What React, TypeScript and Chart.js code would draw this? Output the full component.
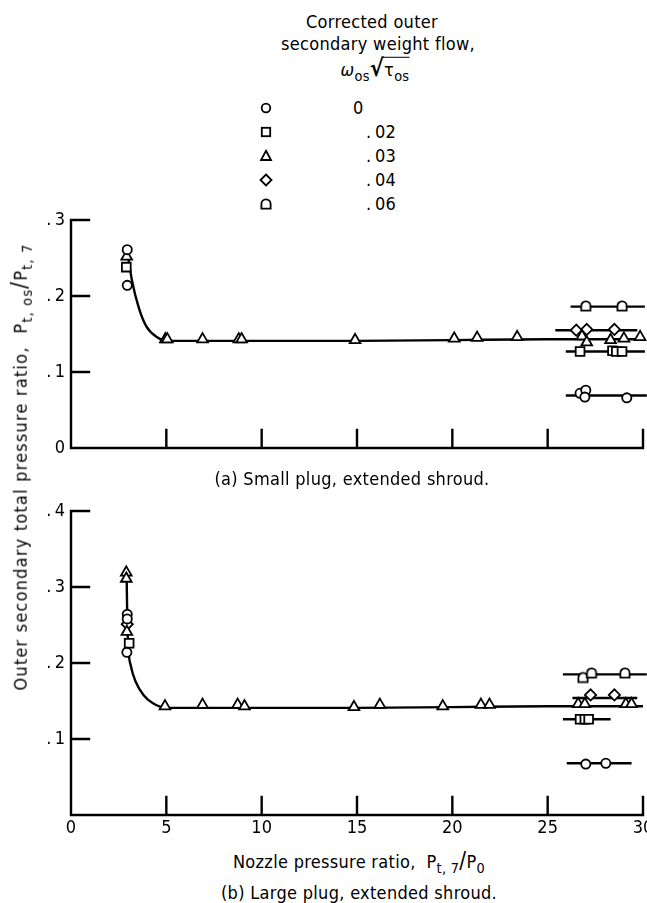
import React, { useEffect, useRef } from "react";
import { Chart, registerables } from "chart.js";

Chart.register(...registerables);

const FONT = "'DejaVu Sans Condensed', 'Liberation Sans Narrow', sans-serif";

// ---------- axes ----------
const xTickValues = [0, 5, 10, 15, 20, 25, 30];
const xTickLabels = ["0", "5", "10", "15", "20", "25", "30"];
const yTickValuesA = [0, 0.1, 0.2, 0.3];
const yTickLabelsA = ["0", ".\u20091", ".\u20092", ".\u20093"];
const yTickValuesB = [0, 0.1, 0.2, 0.3, 0.4];
const yTickLabelsB = ["", ".\u20091", ".\u20092", ".\u20093", ".\u20094"];

// ---------- legend ----------
const legendValues = ["0", ".\u200902", ".\u200903", ".\u200904", ".\u200906"];

// ---------- (a) small plug ----------
const aCircleX = [2.95, 2.95, 26.7, 27.0, 26.95, 29.15];
const aCircleY = [0.261, 0.214, 0.072, 0.076, 0.067, 0.066];
const aSquareX = [2.9, 26.7, 28.4, 28.6, 28.9];
const aSquareY = [0.238, 0.127, 0.128, 0.127, 0.127];
const aTriangleX = [2.92, 4.95, 5.05, 6.9, 8.8, 8.95, 14.9, 20.1, 21.3, 23.4, 26.8, 27.05, 28.3, 29.0, 29.85];
const aTriangleY = [0.252, 0.143, 0.143, 0.143, 0.143, 0.143, 0.142, 0.144, 0.145, 0.146, 0.147, 0.139, 0.142, 0.144, 0.146];
const aDiamondX = [26.5, 27.05, 28.5];
const aDiamondY = [0.155, 0.156, 0.156];
const aDomeX = [27.0, 28.9];
const aDomeY = [0.187, 0.187];
const aCurveX = [2.98, 3.2, 3.55, 3.95, 4.5, 5.0, 10, 15, 20, 25, 30];
const aCurveY = [0.254, 0.22, 0.185, 0.16, 0.146, 0.141, 0.141, 0.141, 0.142, 0.143, 0.143];
const aCircleLineX = [25.95, 30.2];
const aCircleLineY = [0.069, 0.069];
const aSquareLineX = [25.95, 30.1];
const aSquareLineY = [0.127, 0.127];
const aDiamondLineX = [25.4, 29.7];
const aDiamondLineY = [0.155, 0.155];
const aDomeLineX = [26.2, 30.1];
const aDomeLineY = [0.186, 0.186];

// ---------- (b) large plug ----------
const bCircleX = [2.95, 2.95, 2.93, 27.0, 28.05];
const bCircleY = [0.264, 0.258, 0.214, 0.067, 0.068];
const bSquareX = [3.05, 26.7, 26.95, 27.15];
const bSquareY = [0.226, 0.126, 0.126, 0.126];
const bTriangleX = [2.9, 2.9, 2.93, 4.93, 6.9, 8.74, 9.1, 14.84, 16.2, 19.5, 21.5, 21.95, 26.6, 26.95, 29.1, 29.4];
const bTriangleY = [0.319, 0.311, 0.241, 0.143, 0.145, 0.145, 0.143, 0.142, 0.145, 0.143, 0.145, 0.145, 0.146, 0.146, 0.146, 0.146];
const bDiamondX = [2.95, 27.25, 28.5];
const bDiamondY = [0.251, 0.158, 0.158];
const bDomeX = [26.85, 27.3, 29.05];
const bDomeY = [0.181, 0.187, 0.187];
const bCurveX = [2.92, 2.95, 3.0, 3.15, 3.4, 3.8, 4.3, 5.0, 10, 15, 20, 25, 30];
const bCurveY = [0.312, 0.26, 0.222, 0.195, 0.175, 0.158, 0.147, 0.141, 0.141, 0.141, 0.142, 0.143, 0.143];
const bCircleLineX = [26.0, 29.4];
const bCircleLineY = [0.068, 0.068];
const bSquareLineX = [25.8, 28.3];
const bSquareLineY = [0.126, 0.126];
const bDiamondLineX = [26.3, 29.7];
const bDiamondLineY = [0.154, 0.154];
const bDomeLineX = [25.8, 30.2];
const bDomeLineY = [0.185, 0.185];

function pts(xs: number[], ys: number[]) {
  return xs.map((x, i) => ({ x, y: ys[i] }));
}

function makeDome(): HTMLCanvasElement {
  const c = document.createElement("canvas");
  c.width = 14;
  c.height = 14;
  const ctx = c.getContext("2d")!;
  const r = 4.6;
  const cx = 7;
  const cy = 7;
  ctx.beginPath();
  ctx.moveTo(cx - r, cy + r);
  ctx.lineTo(cx - r, cy);
  ctx.arc(cx, cy, r, Math.PI, 0);
  ctx.lineTo(cx + r, cy + r);
  ctx.closePath();
  ctx.fillStyle = "#fff";
  ctx.fill();
  ctx.lineWidth = 1.8;
  ctx.strokeStyle = "#000";
  ctx.stroke();
  return c;
}

function markerSet(data: { x: number; y: number }[], style: any, radius: number) {
  return {
    data,
    showLine: false,
    pointStyle: style,
    pointRadius: radius,
    pointBackgroundColor: "#fff",
    pointBorderColor: "#000",
    pointBorderWidth: 1.8,
    clip: false,
    order: 1,
  };
}

function lineSet(data: { x: number; y: number }[], smooth = false) {
  return {
    data,
    showLine: true,
    borderColor: "#000",
    borderWidth: 2.4,
    pointRadius: 0,
    cubicInterpolationMode: smooth ? "monotone" : "default",
    tension: 0,
    clip: false,
    order: 2,
  };
}

const axesPlugin = {
  id: "sketchAxes",
  afterDraw(chart: any) {
    const { ctx } = chart;
    const xs = chart.scales.x;
    const ys = chart.scales.y;
    const yTicks: number[] = chart.options.plugins.sketchAxes.yTicks;
    const x0 = xs.getPixelForValue(0);
    const x30 = xs.getPixelForValue(30);
    const y0 = ys.getPixelForValue(0);
    const yTop = ys.getPixelForValue(yTicks[yTicks.length - 1]);
    ctx.save();
    ctx.strokeStyle = "#000";
    ctx.lineWidth = 2.4;
    ctx.lineCap = "square";
    ctx.beginPath();
    ctx.moveTo(x0, yTop);
    ctx.lineTo(x0, y0);
    ctx.lineTo(x30, y0);
    for (const v of yTicks) {
      if (v === 0) continue;
      const p = ys.getPixelForValue(v);
      ctx.moveTo(x0, p);
      ctx.lineTo(x0 + 18, p);
    }
    for (const v of xTickValues) {
      if (v === 0) continue;
      const p = xs.getPixelForValue(v);
      ctx.moveTo(p, y0);
      ctx.lineTo(p, y0 - 18);
    }
    ctx.stroke();
    ctx.restore();
  },
};

function makeConfig(
  datasets: any[],
  yMax: number,
  yVals: number[],
  yLabels: string[],
  showX: boolean,
  padTop: number,
  xHeight: number
): any {
  return {
    type: "scatter",
    data: { datasets },
    plugins: [axesPlugin],
    options: {
      responsive: false,
      animation: false,
      events: [],
      layout: { padding: { top: padTop, right: 4, left: 0, bottom: 0 }, autoPadding: false },
      plugins: {
        legend: { display: false },
        tooltip: { enabled: false },
        sketchAxes: { yTicks: yVals },
      },
      scales: {
        x: {
          type: "linear",
          min: 0,
          max: 30,
          grid: { display: false, drawTicks: false },
          border: { display: false },
          afterBuildTicks: (s: any) => {
            s.ticks = xTickValues.map((v) => ({ value: v }));
          },
          afterFit: (s: any) => {
            s.height = xHeight;
            s.paddingLeft = 0;
            s.paddingRight = 0;
          },
          ticks: {
            display: showX,
            autoSkip: false,
            maxRotation: 0,
            padding: 3,
            color: "#000",
            font: { family: FONT, size: 18 },
            callback: (v: number) => {
              const i = xTickValues.indexOf(v);
              return i >= 0 ? xTickLabels[i] : "";
            },
          },
        },
        y: {
          type: "linear",
          min: 0,
          max: yMax,
          grid: { display: false, drawTicks: false },
          border: { display: false },
          afterBuildTicks: (s: any) => {
            s.ticks = yVals.map((v) => ({ value: v }));
          },
          afterFit: (s: any) => {
            s.width = 71;
            s.paddingTop = 0;
            s.paddingBottom = 0;
          },
          ticks: {
            autoSkip: false,
            padding: 6,
            color: "#000",
            font: { family: FONT, size: 18 },
            callback: (v: number) => {
              const i = yVals.findIndex((t) => Math.abs(t - v) < 1e-9);
              return i >= 0 ? yLabels[i] : "";
            },
          },
        },
      },
    },
  };
}

const sub: React.CSSProperties = { fontSize: "0.8em", verticalAlign: "-0.35em" };

function LegendMarker({ kind }: { kind: number }) {
  const s = { fill: "#fff", stroke: "#000", strokeWidth: 1.8 };
  return (
    <svg width={14} height={14} style={{ position: "absolute", left: 259, top: -7 }}>
      {kind === 0 && <circle cx={7} cy={7} r={4.3} {...s} />}
      {kind === 1 && <rect x={2.8} y={2.8} width={8.4} height={8.4} {...s} />}
      {kind === 2 && <polygon points="7,1.8 12,11 2,11" {...s} />}
      {kind === 3 && <polygon points="7,1.5 12.5,7 7,12.5 1.5,7" {...s} />}
      {kind === 4 && <path d="M2.4 11.6 L2.4 7 A4.6 4.6 0 0 1 11.6 7 L11.6 11.6 Z" {...s} />}
    </svg>
  );
}

function Text({ x, y, children, size = 18 }: { x: number; y: number; children: any; size?: number }) {
  return (
    <div
      style={{
        position: "absolute",
        left: x,
        top: y,
        transform: "translate(-50%, -50%)",
        whiteSpace: "nowrap",
        fontSize: size,
        lineHeight: 1,
        letterSpacing: 0.3,
      }}
    >
      {children}
    </div>
  );
}

export default function App() {
  const refA = useRef<HTMLCanvasElement>(null);
  const refB = useRef<HTMLCanvasElement>(null);

  useEffect(() => {
    const dome = makeDome();
    const dsA = [
      markerSet(pts(aCircleX, aCircleY), "circle", 4.6),
      markerSet(pts(aSquareX, aSquareY), "rect", 6.2),
      markerSet(pts(aTriangleX, aTriangleY), "triangle", 6.2),
      markerSet(pts(aDiamondX, aDiamondY), "rectRot", 5.6),
      markerSet(pts(aDomeX, aDomeY), dome, 5),
      lineSet(pts(aCurveX, aCurveY), true),
      lineSet(pts(aCircleLineX, aCircleLineY)),
      lineSet(pts(aSquareLineX, aSquareLineY)),
      lineSet(pts(aDiamondLineX, aDiamondLineY)),
      lineSet(pts(aDomeLineX, aDomeLineY)),
    ];
    const dsB = [
      markerSet(pts(bCircleX, bCircleY), "circle", 4.6),
      markerSet(pts(bSquareX, bSquareY), "rect", 6.2),
      markerSet(pts(bTriangleX, bTriangleY), "triangle", 6.2),
      markerSet(pts(bDiamondX, bDiamondY), "rectRot", 5.6),
      markerSet(pts(bDomeX, bDomeY), dome, 5),
      lineSet(pts(bCurveX, bCurveY), true),
      lineSet(pts(bCircleLineX, bCircleLineY)),
      lineSet(pts(bSquareLineX, bSquareLineY)),
      lineSet(pts(bDiamondLineX, bDiamondLineY)),
      lineSet(pts(bDomeLineX, bDomeLineY)),
    ];
    const a = new Chart(refA.current!, makeConfig(dsA, 0.3, yTickValuesA, yTickLabelsA, false, 20, 22));
    const b = new Chart(refB.current!, makeConfig(dsB, 0.4, yTickValuesB, yTickLabelsB, true, 21, 25));
    return () => {
      a.destroy();
      b.destroy();
    };
  }, []);

  return (
    <div
      style={{
        position: "fixed",
        left: 0,
        top: 0,
        width: 647,
        height: 903,
        background: "#fff",
        color: "#000",
        fontFamily: FONT,
        overflow: "hidden",
      }}
    >
      <Text x={372} y={22}>Corrected outer</Text>
      <Text x={378} y={44}>secondary weight flow,</Text>
      <Text x={375} y={70}>
        <span style={{ fontStyle: "italic" }}>ω</span>
        <span style={sub}>os</span>
        <span style={{ fontSize: "1.3em", fontWeight: "bold" }}>√</span>
        <span style={{ borderTop: "1.5px solid #000", paddingTop: 1 }}>
          τ<span style={sub}>os</span>
        </span>
      </Text>
      {legendValues.map((v, i) => (
        <div key={i} style={{ position: "absolute", left: 0, top: 108 + i * 24, width: 647, height: 0 }}>
          <LegendMarker kind={i} />
          <div
            style={{
              position: "absolute",
              left: i === 0 ? 353 : 366,
              top: -10,
              fontSize: 18,
              lineHeight: "20px",
              letterSpacing: 0.3,
              whiteSpace: "nowrap",
            }}
          >
            {v}
          </div>
        </div>
      ))}

      <canvas ref={refA} width={647} height={270} style={{ position: "absolute", left: 0, top: 200 }} />
      <Text x={352} y={479}>(a) Small plug, extended shroud.</Text>

      <canvas ref={refB} width={647} height={350} style={{ position: "absolute", left: 0, top: 490 }} />
      <Text x={359} y={862}>
        Nozzle pressure ratio,&nbsp; P<span style={sub}>t, 7</span>
        <span style={{ fontSize: "1.25em" }}>/</span>P<span style={sub}>0</span>
      </Text>
      <Text x={359} y={893}>(b) Large plug, extended shroud.</Text>

      <div
        style={{
          position: "absolute",
          left: 21,
          top: 467,
          transform: "translate(-50%, -50%) rotate(-90deg)",
          whiteSpace: "nowrap",
          fontSize: 18,
          lineHeight: 1,
          letterSpacing: 1.2,
        }}
      >
        Outer secondary total pressure ratio,&nbsp; P<span style={sub}>t, os</span>
        <span style={{ fontSize: "1.25em" }}>/</span>P<span style={sub}>t, 7</span>
      </div>
    </div>
  );
}
